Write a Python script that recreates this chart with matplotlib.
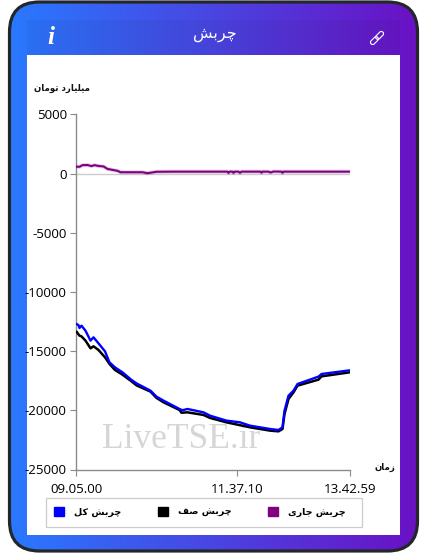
import numpy as np
import matplotlib
matplotlib.use('Agg')
import matplotlib.pyplot as plt
from matplotlib.patches import FancyBboxPatch, Rectangle
from matplotlib.colors import LinearSegmentedColormap
from matplotlib.transforms import Affine2D

# ---------- data ----------
title = "چربش"
y_unit = "میلیارد تومان"
x_unit = "زمان"
series_names = ["چربش کل", "چربش صف", "چربش جاری"]
tick_labels = ["09.05.00", "11.37.10", "13.42.59"]
tick_index = [0, 161, 273.5]
y_ticks = [5000, 0, -5000, -10000, -15000, -20000, -25000]

total_idx = [0, 2, 3, 5, 9, 14, 17, 22, 28.5, 33, 38.5, 46, 55, 60, 74, 80, 87, 103, 106, 111, 127, 133.5,
             150, 163.5, 173.5, 193.5, 202, 206, 208, 212, 217, 221, 242, 245, 273]
total_val = [-12700, -12800, -13040, -12845, -13270, -14110, -13830, -14340, -15015, -15945, -16370, -16790,
             -17430, -17720, -18340, -18845, -19180, -19885, -19990, -19885, -20170, -20450,
             -20870, -21015, -21295, -21575, -21660, -21435, -20030, -18760, -18340, -17775,
             -17150, -16930, -16620]
queue_idx = [0, 3, 5, 9, 14, 17, 22, 28.5, 33, 38.5, 46, 55, 60, 74, 80, 87, 103, 105, 111, 127, 133.5,
             150, 173.5, 193.5, 202, 206, 208, 212, 217, 221, 242, 245, 273]
queue_val = [-13350, -13690, -13750, -14110, -14760, -14590, -14900, -15520, -16080, -16590, -16985,
             -17550, -17890, -18420, -18950, -19320, -19970, -20200, -20170, -20390, -20640,
             -21015, -21435, -21715, -21775, -21575, -20310, -19040, -18480, -17915,
             -17405, -17130, -16790]
current_idx = [0, 3, 6, 11, 15, 18, 22, 27, 31, 41, 44, 66, 71, 80, 100, 151, 152, 153, 156, 157, 158,
               162, 163.5, 165, 184, 185, 186, 192, 194, 197, 205, 206, 207, 240, 273]
current_val = [590, 580, 720, 730, 640, 720, 650, 610, 400, 240, 120, 120, 40, 160, 170, 170, 60, 170, 170, 60, 170,
               170, 70, 170, 170, 80, 170, 170, 100, 180, 170, 70, 170, 170, 170]

# ---------- helpers ----------
FORMS = {
    'چ': (0xFB7A, 0xFB7B, 0xFB7C, 0xFB7D), 'ب': (0xFE8F, 0xFE90, 0xFE91, 0xFE92),
    'ش': (0xFEB5, 0xFEB6, 0xFEB7, 0xFEB8), 'ک': (0xFB8E, 0xFB8F, 0xFB90, 0xFB91),
    'ل': (0xFEDD, 0xFEDE, 0xFEDF, 0xFEE0), 'ص': (0xFEB9, 0xFEBA, 0xFEBB, 0xFEBC),
    'ف': (0xFED1, 0xFED2, 0xFED3, 0xFED4), 'ج': (0xFE9D, 0xFE9E, 0xFE9F, 0xFEA0),
    'ی': (0xFBFC, 0xFBFD, 0xFBFE, 0xFBFF), 'م': (0xFEE1, 0xFEE2, 0xFEE3, 0xFEE4),
    'ت': (0xFE95, 0xFE96, 0xFE97, 0xFE98), 'ن': (0xFEE5, 0xFEE6, 0xFEE7, 0xFEE8),
    'ر': (0xFEAD, 0xFEAE), 'ا': (0xFE8D, 0xFE8E), 'د': (0xFEA9, 0xFEAA),
    'و': (0xFEED, 0xFEEE), 'ز': (0xFEAF, 0xFEB0),
}

def shape(s):
    """Contextual shaping + visual ordering, as matplotlib has no bidi engine."""
    out = []
    for i, c in enumerate(s):
        if c not in FORMS:
            out.append(c)
            continue
        prev = s[i - 1] if i else ' '
        nxt = s[i + 1] if i + 1 < len(s) else ' '
        after = prev in FORMS and len(FORMS[prev]) == 4
        before = nxt in FORMS and len(FORMS[c]) == 4
        k = (1 if after else 0) + (2 if before else 0)
        out.append(chr(FORMS[c][k]))
    return ''.join(reversed(out))

W, H = 427, 554
plt.rcParams['font.family'] = ['Open Sans', 'DejaVu Sans']
fig = plt.figure(figsize=(W / 100, H / 100), dpi=100, facecolor='white')

# ---------- background in pixel coordinates ----------
bg = fig.add_axes([0, 0, 1, 1])
bg.set_xlim(0, W)
bg.set_ylim(H, 0)
bg.axis('off')
cmap = LinearSegmentedColormap.from_list('g', ['#2979ff', '#6a11c4'])
grad = np.linspace(0, 1, 256).reshape(1, -1)
im = bg.imshow(grad, cmap=cmap, extent=[9, 418, 552, 1], aspect='auto', zorder=1)
card = FancyBboxPatch((9.5, 2), 408, 549, boxstyle='round,pad=0,rounding_size=30',
                      facecolor='none', edgecolor='#23272b', linewidth=2.3, zorder=3)
bg.add_patch(card)
im.set_clip_path(card)
bg.set_xlim(0, W)
bg.set_ylim(H, 0)
bg.add_patch(Rectangle((27, 20), 373, 35, facecolor='#000000', alpha=0.04, zorder=2))
bg.add_patch(Rectangle((27, 55), 373, 480, facecolor='white', zorder=2))
bg.add_patch(Rectangle((46.5, 497.5), 316, 29.5, facecolor='white', edgecolor='#cccccc', lw=0.9, zorder=2.5))

bg.text(214.5, 35, shape(title), color='white', fontsize=11.5, ha='center', va='center',
        family='DejaVu Sans', zorder=5)
bg.text(51, 37, 'i', color='white', fontsize=18, style='italic', weight='bold', ha='center', va='center',
        family='Liberation Serif', zorder=5)
for dx, dy in [(-2.6, 2.6), (2.6, -2.6)]:
    tr = Affine2D().rotate_deg_around(377 + dx, 38 + dy, -45) + bg.transData
    bg.add_patch(FancyBboxPatch((377 + dx - 4.6, 38 + dy - 2.2), 9.2, 4.4, boxstyle='round,pad=0,rounding_size=2.1',
                                facecolor='none', edgecolor='white', linewidth=0.8, transform=tr, zorder=5))

bg.text(62.5, 88, shape(y_unit), fontsize=6.2, weight='bold', ha='center', va='center',
        family='DejaVu Sans', color='#111111', zorder=5)
bg.text(385, 467.5, shape(x_unit), fontsize=6.2, weight='bold', ha='center', va='center',
        family='DejaVu Sans', color='#111111', zorder=5)
bg.text(181.5, 440, 'LiveTSE.ir', fontsize=25.5, family='Liberation Serif', color='#d6d6d6',
        ha='center', va='center', zorder=5)

# ---------- chart ----------
x0, x1, y0, y1 = 76.5, 350, 114.5, 469.5
ax = fig.add_axes([x0 / W, 1 - y1 / H, (x1 - x0) / W, (y1 - y0) / H])
ax.patch.set_alpha(0)
ax.set_xlim(0, 273.5)
ax.set_ylim(-25000, 5000)
ax.spines[['top', 'right']].set_visible(False)
ax.spines[['left', 'bottom']].set_color('#8a8a8a')
ax.spines[['left', 'bottom']].set_linewidth(1.0)
ax.set_yticks(y_ticks)
ax.set_yticklabels([str(v) for v in y_ticks])
ax.set_xticks(tick_index)
ax.set_xticklabels(tick_labels)
ax.tick_params(axis='both', length=4.5, width=0.8, color='#8a8a8a', labelsize=9.6, labelcolor='black')
ax.tick_params(axis='x', pad=5)
ax.tick_params(axis='y', pad=2.5)
ax.axhline(0, color='#cccccc', lw=1.0, zorder=1)

l2, = ax.plot(queue_idx, queue_val, color='black', lw=1.8, zorder=3, solid_capstyle='round')
l1, = ax.plot(total_idx, total_val, color='#0000ff', lw=1.7, zorder=4, solid_capstyle='round')
ax.plot(current_idx, current_val, color='#800080', lw=2.8, alpha=0.2, zorder=4.5)
l3, = ax.plot(current_idx, current_val, color='#800080', lw=1.5, zorder=5)

handles = [Rectangle((0, 0), 1, 1, color=c) for c in ['#0000ff', 'black', '#800080']]
leg = ax.legend(handles, [shape(n) for n in series_names], ncol=3, loc='center',
                bbox_to_anchor=((200 - x0) / (x1 - x0), 1 - (512 - y0) / (y1 - y0)),
                frameon=False,
                prop={'family': 'DejaVu Sans', 'weight': 'bold', 'size': 6.8},
                handlelength=1.06, handleheight=1.06, handletextpad=1.06, columnspacing=3.9,
                borderpad=0, borderaxespad=0)

fig.savefig('out.png', dpi=100, facecolor='white')
